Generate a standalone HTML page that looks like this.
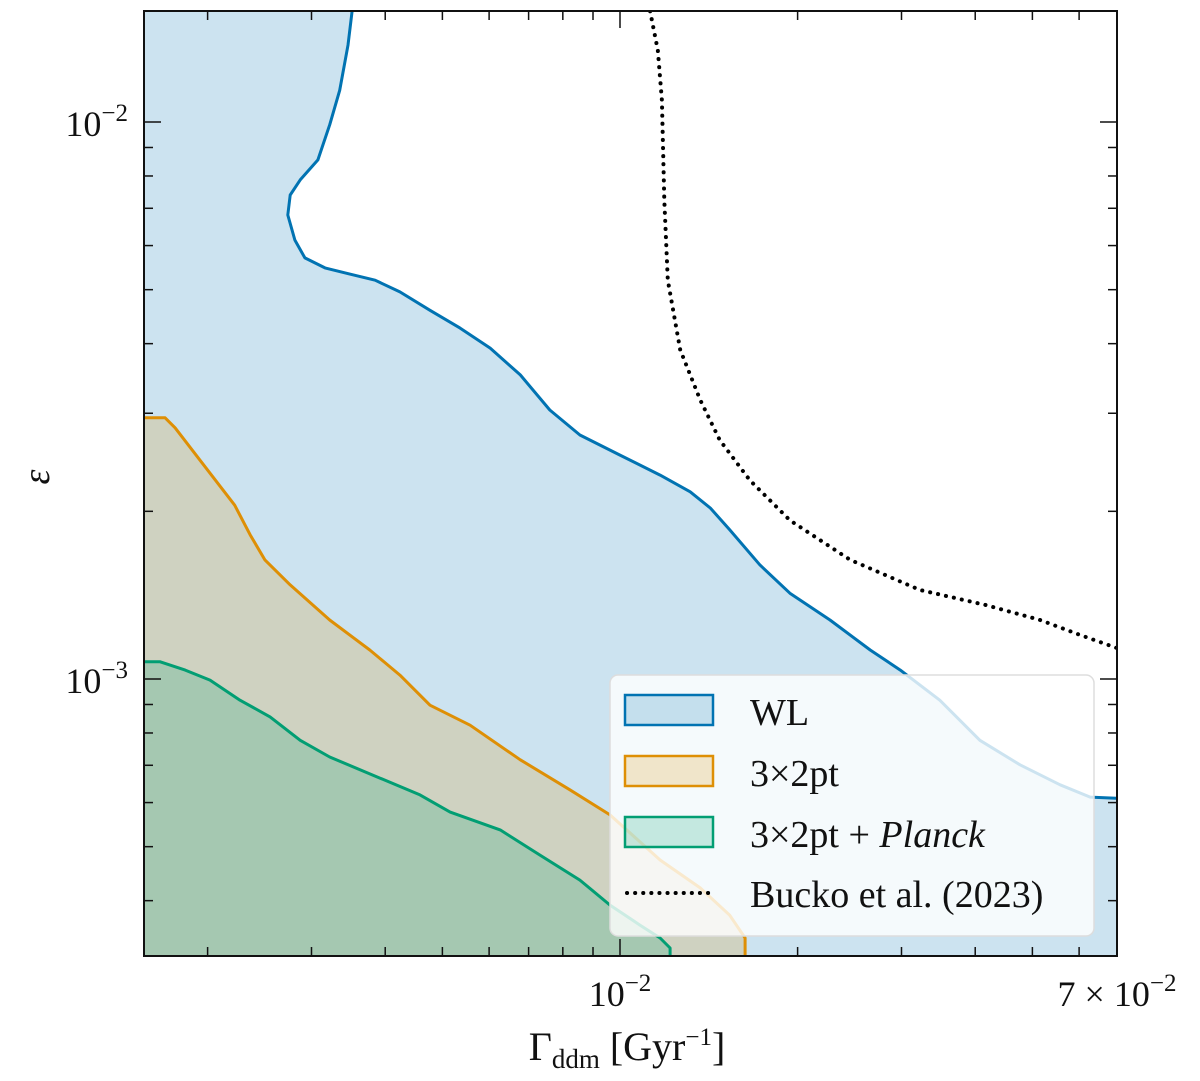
<!DOCTYPE html>
<html><head><meta charset="utf-8"><style>
html,body{margin:0;padding:0;background:#fff;}
svg text{font-family:"Liberation Serif",serif;fill:#111;}
</style></head><body>
<svg id="chart" width="1200" height="1076" viewBox="0 0 1200 1076" xmlns="http://www.w3.org/2000/svg">
<defs><clipPath id="clip"><rect x="144" y="11" width="973" height="945"/></clipPath></defs>
<g id="plot" clip-path="url(#clip)"></g>
<g id="axes"></g>
</svg>
<script>
// data: log10 values
const wlLogGamma = [-2.454,-2.461,-2.475,-2.492,-2.512,-2.542,-2.559,-2.563,-2.551,-2.534,-2.500,-2.458,-2.415,-2.373,-2.322,-2.271,-2.220,-2.169,-2.119,-2.068,-2.000,-1.932,-1.881,-1.847,-1.814,-1.763,-1.712,-1.644,-1.576,-1.525,-1.458,-1.390,-1.322,-1.254,-1.203,-1.159];
const wlLogEps = [-1.801,-1.862,-1.943,-2.005,-2.068,-2.104,-2.131,-2.167,-2.212,-2.244,-2.262,-2.273,-2.284,-2.305,-2.338,-2.370,-2.406,-2.454,-2.517,-2.562,-2.598,-2.634,-2.664,-2.693,-2.732,-2.795,-2.846,-2.894,-2.948,-2.984,-3.038,-3.110,-3.154,-3.190,-3.212,-3.214];
const p3LogGamma = [-2.805,-2.771,-2.754,-2.712,-2.653,-2.627,-2.602,-2.559,-2.492,-2.424,-2.373,-2.322,-2.254,-2.169,-2.085,-2.017,-1.932,-1.864,-1.814,-1.788,-1.788];
const p3LogEps = [-2.531,-2.531,-2.549,-2.607,-2.688,-2.741,-2.786,-2.831,-2.894,-2.948,-2.993,-3.047,-3.083,-3.145,-3.199,-3.244,-3.325,-3.375,-3.424,-3.465,-3.497];
const plLogGamma = [-2.805,-2.780,-2.737,-2.695,-2.644,-2.593,-2.542,-2.492,-2.407,-2.339,-2.288,-2.203,-2.136,-2.068,-2.017,-1.966,-1.932,-1.915,-1.915];
const plLogEps = [-2.969,-2.969,-2.984,-3.002,-3.038,-3.068,-3.110,-3.140,-3.178,-3.208,-3.239,-3.271,-3.316,-3.361,-3.406,-3.442,-3.465,-3.483,-3.497];
const buLogGamma = [-1.949,-1.936,-1.929,-1.925,-1.919,-1.898,-1.864,-1.831,-1.780,-1.712,-1.610,-1.492,-1.381,-1.288,-1.220,-1.159];
const buLogEps = [-1.801,-1.871,-1.961,-2.140,-2.284,-2.409,-2.499,-2.571,-2.643,-2.715,-2.786,-2.840,-2.867,-2.894,-2.921,-2.944];
const xMinorTicks = [0.002,0.003,0.004,0.005,0.006,0.007,0.008,0.009,0.02,0.03,0.04,0.05,0.06];
const yMinorTicks = [0.0004,0.0005,0.0006,0.0007,0.0008,0.0009,0.002,0.003,0.004,0.005,0.006,0.007,0.008,0.009];

const L=144,R=1117,T=11,B=956;
const lx=v=>620+590*(v+2);
const ly=v=>122-557*(v+2);
const X=v=>lx(Math.log10(v)), Y=v=>ly(Math.log10(v));
const NS='http://www.w3.org/2000/svg';
const plot=document.getElementById('plot'), axes=document.getElementById('axes');
function mk(tag,parent,attrs){const e=document.createElementNS(NS,tag);for(const k in attrs)e.setAttribute(k,attrs[k]);parent.appendChild(e);return e;}
function pts(gx,gy){return gx.map((g,i)=>lx(g).toFixed(1)+','+ly(gy[i]).toFixed(1));}

const wl=pts(wlLogGamma,wlLogEps);
let e=mk('polygon',plot,{points:[L+','+T,...wl,R+','+B,L+','+B].join(' '),fill:'#0173b2','fill-opacity':0.2,stroke:'none'});

const p3=pts(p3LogGamma,p3LogEps);
e=mk('polygon',plot,{points:[...p3,L+','+B].join(' '),fill:'#de8f05','fill-opacity':0.2});

const pl=pts(plLogGamma,plLogEps);
e=mk('polygon',plot,{points:[...pl,L+','+B].join(' '),fill:'#029e73','fill-opacity':0.2});

e=mk('polyline',plot,{points:wl.join(' '),fill:'none',stroke:'#0173b2','stroke-width':3,'stroke-linejoin':'round'});

e=mk('polyline',plot,{points:p3.join(' '),fill:'none',stroke:'#de8f05','stroke-width':3,'stroke-linejoin':'round'});

e=mk('polyline',plot,{points:pl.join(' '),fill:'none',stroke:'#029e73','stroke-width':3,'stroke-linejoin':'round'});

e=mk('polyline',plot,{points:pts(buLogGamma,buLogEps).join(' '),fill:'none',stroke:'#000','stroke-width':4,'stroke-dasharray':'0.1 8','stroke-linecap':'round'});


// ticks
function tick(x1,y1,x2,y2,name){const t=mk('line',axes,{x1,y1,x2,y2,stroke:'#111','stroke-width':1.5});}
xMinorTicks.forEach(v=>{const x=X(v);tick(x,B,x,B-9,'x-minor-tick');tick(x,T,x,T+9,'x-minor-tick');});
[0.01].forEach(v=>{const x=X(v);tick(x,B,x,B-17,'x-major-tick');tick(x,T,x,T+17,'x-major-tick');});
yMinorTicks.forEach(v=>{const y=Y(v);tick(L,y,L+9,y,'y-minor-tick');tick(R,y,R-9,y,'y-minor-tick');});
[0.01,0.001].forEach(v=>{const y=Y(v);tick(L,y,L+17,y,'y-major-tick');tick(R,y,R-17,y,'y-major-tick');});
e=mk('rect',axes,{x:L,y:T,width:R-L,height:B-T,fill:'none',stroke:'#111','stroke-width':2});


// legend
const lg=mk('g',axes,{});

e=mk('rect',lg,{x:610,y:675,width:484,height:261,rx:8,fill:'#fff','fill-opacity':0.8,stroke:'#ddd','stroke-width':1.5});

const entries=[['WL','#0173b2','wl'],['3×2pt','#de8f05','3x2pt'],[null,'#029e73','planck']];
entries.forEach((en,i)=>{const cy=710+i*61;
 let r=mk('rect',lg,{x:625,y:cy-15,width:88,height:30,fill:en[1],'fill-opacity':0.2,stroke:en[1],'stroke-width':2.5});
 
});
e=mk('line',lg,{x1:627,y1:893,x2:711,y2:893,stroke:'#000','stroke-width':4,'stroke-dasharray':'0.1 8','stroke-linecap':'round'});

</script>
<svg width="1200" height="1076" style="position:absolute;left:0;top:0">
<text x="750" y="725" font-size="38">WL</text>
<text x="750" y="786" font-size="38">3×2pt</text>
<text x="750" y="847" font-size="38">3×2pt + <tspan font-style="italic">Planck</tspan></text>
<text x="750" y="907" font-size="38">Bucko et al. (2023)</text>
<text x="620" y="1006" font-size="36" text-anchor="middle">10<tspan dy="-15" font-size="25">−2</tspan></text>
<text x="1117" y="1006" font-size="36" text-anchor="middle">7 × 10<tspan dy="-15" font-size="25">−2</tspan></text>
<text x="128" y="136" font-size="36" text-anchor="end">10<tspan dy="-15" font-size="25">−2</tspan></text>
<text x="128" y="693" font-size="36" text-anchor="end">10<tspan dy="-15" font-size="25">−3</tspan></text>
<text x="627" y="1060" font-size="40" text-anchor="middle">Γ<tspan font-size="27" dy="8">ddm</tspan><tspan dy="-8">  [Gyr</tspan><tspan font-size="25" dy="-15">−1</tspan><tspan dy="15">]</tspan></text>
<text x="44" y="494" font-size="38" font-style="italic" text-anchor="middle" transform="rotate(-90 38 483)">ε</text>
</svg>
</body></html>
